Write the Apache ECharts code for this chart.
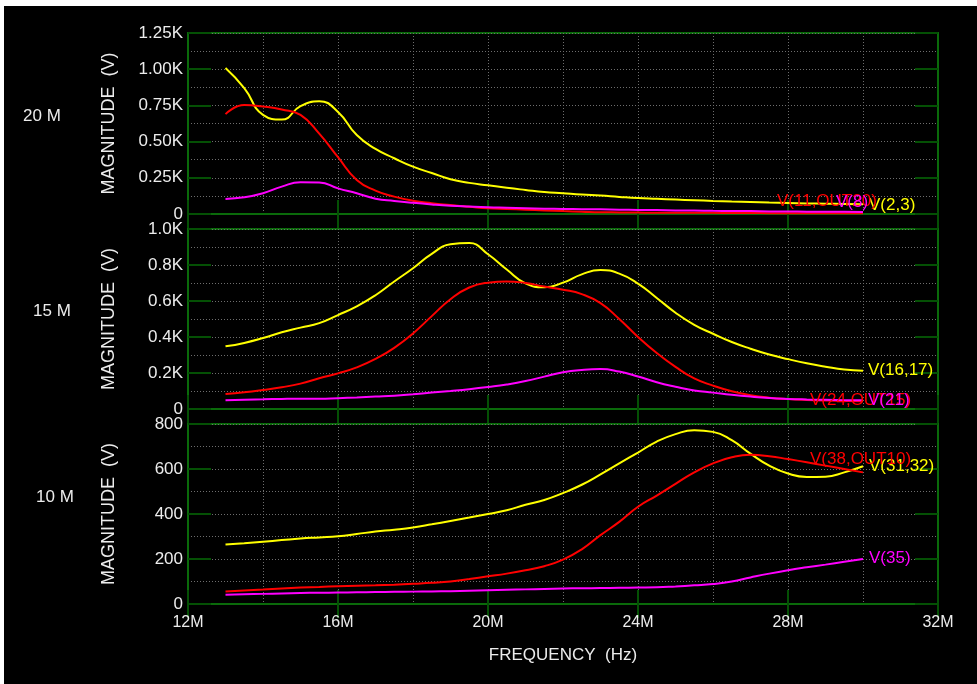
<!DOCTYPE html>
<html><head><meta charset="utf-8">
<script src="https://cdn.jsdelivr.net/npm/echarts@6/dist/echarts.min.js"></script>
<style>
html,body{margin:0;padding:0;background:#fff;width:977px;height:684px;overflow:hidden}
#c{position:absolute;left:4px;top:6px;width:973px;height:678px;background:#000}
</style></head><body><div id="c"></div>
<script>
// Frequency samples (MHz)
const freq = [13,13.5,14,14.5,15,15.5,16,16.5,17,17.5,18,18.5,19,19.5,20,20.5,21,21.5,22,22.5,23,23.5,24,24.5,25,25.5,26,26.5,27,27.5,28,28.5,29,29.5,30];
const xTicks = [12,16,20,24,28,32];
const panelNames = ['20 M','15 M','10 M'];

// 20 M panel
const v_2_3   = [1008,870,685,652,745,778,705,545,450,385,327,283,240,215,198,181,166,152,143,134,127,118,110,105,100,95,90,86,83,79,76,73,71,69,67];
const v_11_out20 = [690,752,742,722,684,555,392,235,162,120,92,75,62,50,39,34,30,25,20,16,12,11,10,9,9,8,8,7,7,6,6,6,5,5,5];
const v_8     = [104,115,143,189,219,218,177,143,106,90,77,66,57,51,46,43,40,37,35,33,32,30,28,27,25,24,22,21,20,18,17,16,15,15,14];
// 15 M panel
const v_16_17 = [348,367,394,426,452,477,522,570,632,708,782,862,915,922,860,775,698,676,702,748,772,752,697,617,535,468,418,372,335,303,277,254,235,219,213];
const v_24_out15 = [83,93,106,121,141,171,198,231,278,340,420,516,610,675,702,709,700,680,663,638,588,500,400,311,234,170,130,99,77,63,55,50,47,45,43];
const v_21    = [48,52,54,56,57,57,60,64,69,74,82,91,100,110,122,136,155,180,204,217,222,208,181,149,124,103,91,79,69,61,56,53,51,49,48];
// 10 M panel
const v_31_32 = [264,270,277,284,291,296,301,311,322,330,340,354,369,384,400,417,441,462,493,530,576,625,673,722,755,772,765,728,668,615,580,565,566,585,612];
const v_38_out10 = [56,60,64,69,73,76,79,81,83,86,90,94,100,111,123,135,150,168,197,243,306,365,432,482,534,585,625,652,663,657,644,630,615,600,585];
const v_35    = [41,43,45,47,49,50,51,52,53,54,55,56,57,59,61,63,65,67,69,70,71,72,73,74,78,83,89,100,118,135,150,163,175,188,200];

const yMax = [1250,1000,800];
const yInterval = [250,200,200];

const FONT = 'Liberation Sans, Arial, sans-serif';
const TXT = '#ececec';
const FRAME = '#0a6a0a';
const TICK = '#045004';
const GRIDC = '#6e6e6e';

const chart = echarts.init(document.getElementById('c'), null, {renderer:'canvas'});

const grids = [
  {left:184, top:27,  width:750, height:181},
  {left:184, top:223, width:750, height:180},
  {left:184, top:418, width:750, height:180}
].map(g => Object.assign(g, {show:true, borderColor:FRAME, borderWidth:2, backgroundColor:'transparent'}));

const yFmt = [
  v => v===0 ? '0' : (v/1000).toFixed(2)+'K',
  v => v===0 ? '0' : (v/1000).toFixed(1)+'K',
  v => String(v)
];

const xAxes = [], yAxes = [];
for (let i=0;i<3;i++){
  xAxes.push({
    type:'value', gridIndex:i, min:12, max:32, interval:4, position:'bottom',
    axisLine:{show:true, lineStyle:{color:FRAME, width:2}},
    axisTick:{show:true, inside:true, length:14, lineStyle:{color:TICK, width:2}},
    axisLabel:{show:i===2, color:TXT, fontSize:16, fontFamily:FONT, margin:11,
      formatter: v => xTicks.includes(v) ? v+'M' : ''},
    splitLine:{show:true, lineStyle:{color:GRIDC, type:[1,2], width:1}},
    minorTick:{show:false, splitNumber:2},
    minorSplitLine:{show:true, lineStyle:{color:GRIDC, type:[1,2], width:1}},
    name: i===2 ? 'FREQUENCY  (Hz)' : '', nameLocation:'middle', nameGap:43,
    nameTextStyle:{color:TXT, fontSize:17, fontFamily:FONT}
  });
  xAxes.push({
    type:'value', gridIndex:i, min:12, max:32, interval:4, position:'top',
    axisLine:{show:true, lineStyle:{color:FRAME, width:2}},
    axisTick:{show:true, inside:true, length:14, lineStyle:{color:TICK, width:2}},
    axisLabel:{show:false}, splitLine:{show:false}
  });
  yAxes.push({
    type:'value', gridIndex:i, min:0, max:yMax[i], interval:yInterval[i], position:'left',
    axisLine:{show:true, lineStyle:{color:FRAME, width:2}},
    axisTick:{show:true, inside:true, length:23, lineStyle:{color:TICK, width:2}},
    axisLabel:{color:TXT, fontSize:17, fontFamily:FONT, margin:5, formatter:yFmt[i]},
    splitLine:{show:true, lineStyle:{color:GRIDC, type:[1,2], width:1}},
    minorTick:{show:false, splitNumber:2},
    minorSplitLine:{show:true, lineStyle:{color:GRIDC, type:[1,2], width:1}},
    name:'MAGNITUDE  (V)', nameLocation:'middle', nameGap:70, nameRotate:90,
    nameTextStyle:{color:TXT, fontSize:18, fontFamily:FONT}
  });
  yAxes.push({
    type:'value', gridIndex:i, min:0, max:yMax[i], interval:yInterval[i], position:'right',
    axisLine:{show:true, lineStyle:{color:FRAME, width:2}},
    axisTick:{show:true, inside:true, length:23, lineStyle:{color:TICK, width:2}},
    axisLabel:{show:false}, splitLine:{show:false}
  });
}

function mk(name, vals, color, panel, off){
  return {
    type:'line', name, xAxisIndex:panel*2, yAxisIndex:panel*2,
    data: freq.map((f,k)=>[f, vals[k]]),
    showSymbol:false, symbol:'none', smooth:0.5,
    lineStyle:{color, width:2}, itemStyle:{color},
    endLabel:{show:true, formatter:name, color, fontSize:17, fontFamily:FONT,
      distance:0, offset:off, align:'left', verticalAlign:'middle'},
    emphasis:{disabled:true}, silent:true
  };
}
const YEL='#ffff00', RED='#ff0000', MAG='#ff00ff';
const series = [
  mk('V(2,3)', v_2_3, YEL, 0, [6,1]),
  mk('V(11,OUT20)', v_11_out20, RED, 0, [-86,-12]),
  mk('V(8)', v_8, MAG, 0, [-27,-10]),
  mk('V(16,17)', v_16_17, YEL, 1, [5,0]),
  mk('V(24,OUT15)', v_24_out15, RED, 1, [-53,-1]),
  mk('V(21)', v_21, MAG, 1, [5,0]),
  mk('V(31,32)', v_31_32, YEL, 2, [6,0]),
  mk('V(38,OUT10)', v_38_out10, RED, 2, [-53,-13]),
  mk('V(35)', v_35, MAG, 2, [6,-1])
];

const panelPos = [[19,111],[29,306],[32,492]];
const graphic = panelNames.map((t,i)=>({
  type:'text', left:panelPos[i][0], top:panelPos[i][1]-9,
  style:{text:t, fill:TXT, font:'17px '+FONT}
}));

chart.setOption({
  backgroundColor:'#000',
  animation:false,
  grid:grids, xAxis:xAxes, yAxis:yAxes, series, graphic
});
</script></body></html>
